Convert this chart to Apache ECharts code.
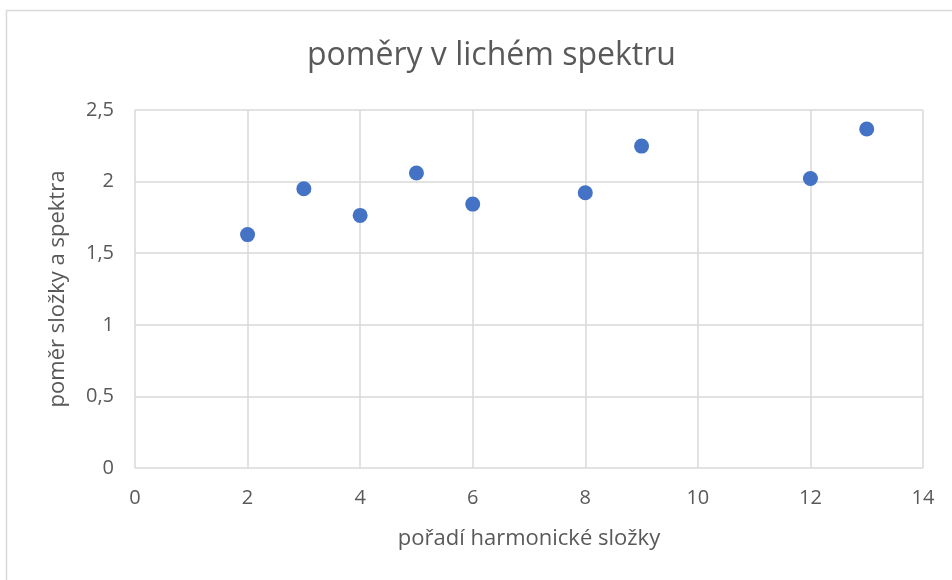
<!DOCTYPE html>
<html>
<head>
<meta charset="utf-8">
<script src="https://cdn.jsdelivr.net/npm/echarts@6/dist/echarts.min.js"></script>
<style>
  html, body { margin: 0; padding: 0; background: #fff; }
  #chart { width: 952px; height: 580px; }
</style>
</head>
<body>
<div id="chart"></div>
<script>
// harmonic order and ratio values
const harmonics = [2, 3, 4, 5, 6, 8, 9, 12, 13];
const ratios = [1.63, 1.95, 1.764, 2.06, 1.843, 1.922, 2.248, 2.022, 2.367];

const xTicks = [0, 2, 4, 6, 8, 10, 12, 14];
const yTicks = [0, 0.5, 1, 1.5, 2, 2.5];

const textColor = "#595959";
const gridColor = "#d9d9d9";
const fontFamily = "'Open Sans', 'Noto Sans', sans-serif";

const chart = echarts.init(document.getElementById("chart"));

chart.setOption({
  animation: false,
  textStyle: { fontFamily },
  title: {
    text: "poměry v lichém spektru",
    left: 302,
    top: 35,
    textStyle: { color: textColor, fontSize: 32, fontWeight: "normal", fontFamily },
  },
  graphic: [
    {
      type: "rect",
      shape: { x: 6.5, y: 10.5, width: 1000, height: 700 },
      style: { fill: "none", stroke: gridColor, lineWidth: 1.5 },
      silent: true,
    },
  ],
  grid: {
    left: 135,
    right: 29,
    top: 110,
    bottom: 112,
    containLabel: false,
    outerBoundsMode: "none",
  },
  xAxis: {
    type: "value",
    min: xTicks[0],
    max: xTicks[xTicks.length - 1],
    interval: 2,
    name: "pořadí harmonické složky",
    nameLocation: "middle",
    nameGap: 60,
    nameTextStyle: { color: textColor, fontSize: 22, fontFamily },
    axisLine: { show: false },
    axisTick: { show: false },
    axisLabel: { color: textColor, fontSize: 20, margin: 20, fontFamily },
    splitLine: { show: true, lineStyle: { color: gridColor, width: 1.5 } },
  },
  yAxis: {
    type: "value",
    min: yTicks[0],
    max: yTicks[yTicks.length - 1],
    interval: 0.5,
    name: "poměr složky a spektra",
    nameLocation: "middle",
    nameGap: 66,
    nameTextStyle: { color: textColor, fontSize: 22, fontFamily },
    axisLine: { show: false },
    axisTick: { show: false },
    axisLabel: {
      color: textColor,
      fontSize: 20,
      margin: 21,
      fontFamily,
      formatter: (v) => String(v).replace(".", ","),
    },
    splitLine: { show: true, lineStyle: { color: gridColor, width: 1.5 } },
  },
  series: [
    {
      type: "scatter",
      symbol: "circle",
      symbolSize: 15,
      itemStyle: { color: "#4472c4", opacity: 1 },
      data: harmonics.map((h, i) => [h, ratios[i]]),
    },
  ],
});
</script>
</body>
</html>
